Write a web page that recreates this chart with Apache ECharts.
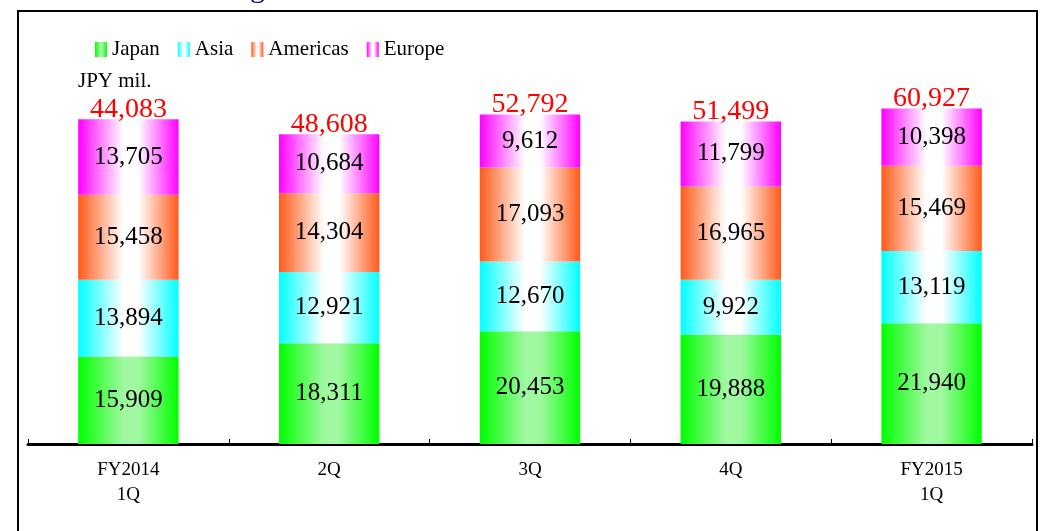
<!DOCTYPE html>
<html>
<head>
<meta charset="utf-8">
<script src="https://cdn.jsdelivr.net/npm/echarts@6/dist/echarts.min.js"></script>
<style>
  html, body { margin: 0; padding: 0; background: #fff; }
  #main { width: 1040px; height: 531px; }
</style>
</head>
<body>
<div id="main"></div>
<script>
// quarterly sales by region, JPY mil.
var quarters = ['FY2014\n1Q', '2Q', '3Q', '4Q', 'FY2015\n1Q'];
var japan = [15909, 18311, 20453, 19888, 21940];
var asia = [13894, 12921, 12670, 9922, 13119];
var americas = [15458, 14304, 17093, 16965, 15469];
var europe = [13705, 10684, 9612, 11799, 10398];
var totals = [44083, 48608, 52792, 51499, 60927];

var FONT = 'Liberation Serif';

function fmt(v) {
    return String(v).replace(/\B(?=(\d{3})+(?!\d))/g, ',');
}

//horizontal gradient: color at the edges, light in the middle
function grad(edge, mid) {
    return new echarts.graphic.LinearGradient(0, 0, 1, 0, [
        { offset: 0, color: edge },
        { offset: 0.45, color: mid },
        { offset: 0.6, color: mid },
        { offset: 1, color: edge }
    ]);
}

function seg(name, data, color) {
    return {
        name: name,
        type: 'bar',
        stack: 'total',
        barWidth: '50%',
        data: data,
        itemStyle: { color: color },
        label: {
            show: true,
            position: 'inside',
            color: '#000',
            fontFamily: FONT,
            fontSize: 25,
            formatter: function (p) { return fmt(p.value); }
        }
    };
}

var chart = echarts.init(document.getElementById('main'));

var series = [
    seg('Japan', japan, grad('#00ff00', '#a0f8a0')),
    seg('Asia', asia, grad('#00ffff', '#ffffff')),
    seg('Americas', americas, grad('#ff5a1a', '#ffffff')),
    seg('Europe', europe, grad('#ff00ff', '#ffffff'))
];

//totals printed above each bar
series.push({
    name: 'total',
    type: 'bar',
    stack: 'total',
    barWidth: '50%',
    data: totals.map(function () { return 0; }),
    itemStyle: { color: 'transparent' },
    label: {
        show: true,
        position: 'top',
        distance: -4,
        color: '#ff0000',
        fontFamily: FONT,
        fontSize: 28,
        formatter: function (p) { return fmt(totals[p.dataIndex]); }
    },
    tooltip: { show: false }
});

chart.setOption({
    animation: false,
    backgroundColor: '#fff',
    textStyle: { fontFamily: FONT },
    legend: {
        data: ['Japan', 'Asia', 'Americas', 'Europe'],
        left: 90,
        top: 34,
        icon: 'rect',
        itemWidth: 12,
        itemHeight: 15,
        itemGap: 18,
        textStyle: { fontFamily: FONT, fontSize: 21, color: '#000' }
    },
    grid: { left: 28, right: 8, top: 86, bottom: 87 },
    xAxis: {
        type: 'category',
        data: quarters,
        axisLine: { lineStyle: { color: '#000', width: 3 } },
        axisTick: { show: true, inside: true, length: 5, lineStyle: { color: '#000', width: 1 } },
        axisLabel: {
            color: '#000',
            fontFamily: FONT,
            fontSize: 19,
            lineHeight: 25,
            margin: 14
        }
    },
    yAxis: {
        type: 'value',
        min: 0,
        max: 65000,
        show: false,
        splitLine: { show: false }
    },
    graphic: [
        {
            type: 'rect',
            shape: { x: 18, y: 11, width: 1019, height: 600 },
            style: { fill: 'none', stroke: '#000', lineWidth: 2 },
            silent: true
        },
        {
            type: 'text',
            left: 78,
            top: 71,
            style: { text: 'JPY mil.', fontFamily: FONT, fontSize: 21, fill: '#000' }
        },
        {
            //bottom of the cut-off title
            type: 'text',
            left: 250,
            top: -26,
            style: { text: 'g', fontFamily: FONT, fontSize: 30, fill: '#0a0a9a' }
        }
    ],
    series: series
});
</script>
</body>
</html>
